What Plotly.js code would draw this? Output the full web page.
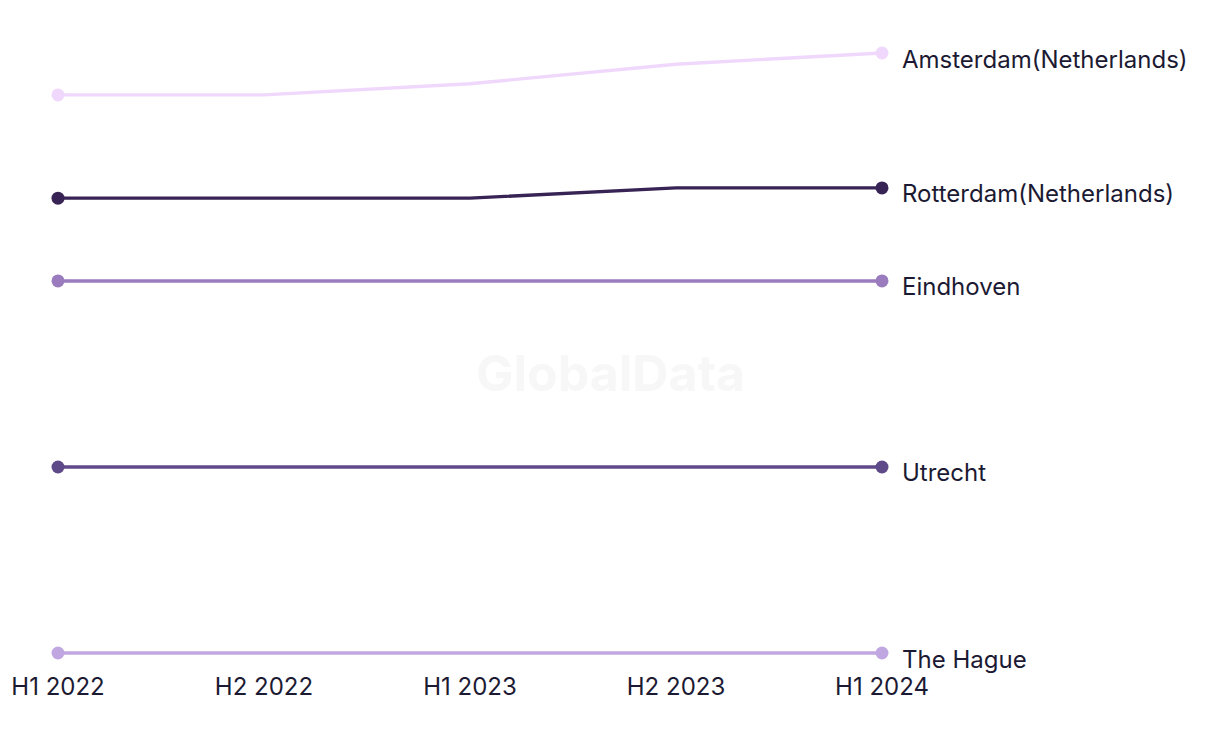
<!DOCTYPE html>
<html>
<head>
<meta charset="utf-8">
<script src="https://cdn.plot.ly/plotly-3.0.1.min.js"></script>
<style>html,body{margin:0;padding:0;background:#fff;}#chart{width:1220px;height:744px;}</style>
</head>
<body>
<div id="chart"></div>
<script>
const periods = ["H1 2022", "H2 2022", "H1 2023", "H2 2023", "H1 2024"];
const cities = ["Amsterdam(Netherlands)", "Rotterdam(Netherlands)", "Eindhoven", "Utrecht", "The Hague"];
const amsterdam = [8.0, 8.0, 8.12, 8.33, 8.45];
const rotterdam = [6.89, 6.89, 6.89, 7.0, 7.0];
const eindhoven = [6.0, 6.0, 6.0, 6.0, 6.0];
const utrecht = [4.0, 4.0, 4.0, 4.0, 4.0];
const theHague = [2.0, 2.0, 2.0, 2.0, 2.0];
const seriesValues = [amsterdam, rotterdam, eindhoven, utrecht, theHague];
const colors = ["#f0d8fc", "#372454", "#9a7bbd", "#5e4a88", "#c1a7e1"];

const font = "Inter, Roboto, 'Liberation Sans', sans-serif";
const traces = cities.map((c, i) => ({
  type: "scatter",
  mode: "lines+markers",
  name: c,
  x: periods,
  y: seriesValues[i],
  opacity: 1,
  line: {color: colors[i], width: 3.4, shape: "linear"},
  marker: {color: colors[i], opacity: 1, line: {width: 0},
    size: seriesValues[i].map((v, j) => (j === 0 || j === periods.length - 1) ? 13 : 0)},
  cliponaxis: false,
  hoverinfo: "x+y+name"
}));

const annotations = cities.map((c, i) => ({
  x: periods[periods.length - 1],
  y: seriesValues[i][seriesValues[i].length - 1],
  xref: "x", yref: "y",
  text: c,
  showarrow: false,
  xanchor: "left",
  yanchor: "middle",
  xshift: 18,
  yshift: -6,
  font: {family: font, size: 24, color: "#1c1a33"}
}));
annotations.push({
  x: 0.67, y: 0.466, xref: "paper", yref: "paper",
  xanchor: "center", yanchor: "middle",
  text: "<b>GlobalData</b>", showarrow: false,
  font: {family: font, size: 50, color: "#f7f7f7"}
});

const layout = {
  width: 1220, height: 744,
  margin: {l: 58, r: 338, t: 40, b: 80},
  paper_bgcolor: "#ffffff", plot_bgcolor: "#ffffff",
  showlegend: false,
  xaxis: {
    type: "category", range: [0, 4], showgrid: false, zeroline: false, showline: false,
    ticks: "", ticklabelstandoff: 6, tickfont: {family: font, size: 24, color: "#1c1a33"}, fixedrange: true
  },
  yaxis: {
    range: [1.882, 8.59], showgrid: false, zeroline: false, showline: false,
    showticklabels: false, ticks: "", fixedrange: true
  },
  annotations: annotations
};
Plotly.newPlot("chart", traces, layout, {displayModeBar: false, staticPlot: true});
</script>
</body>
</html>
